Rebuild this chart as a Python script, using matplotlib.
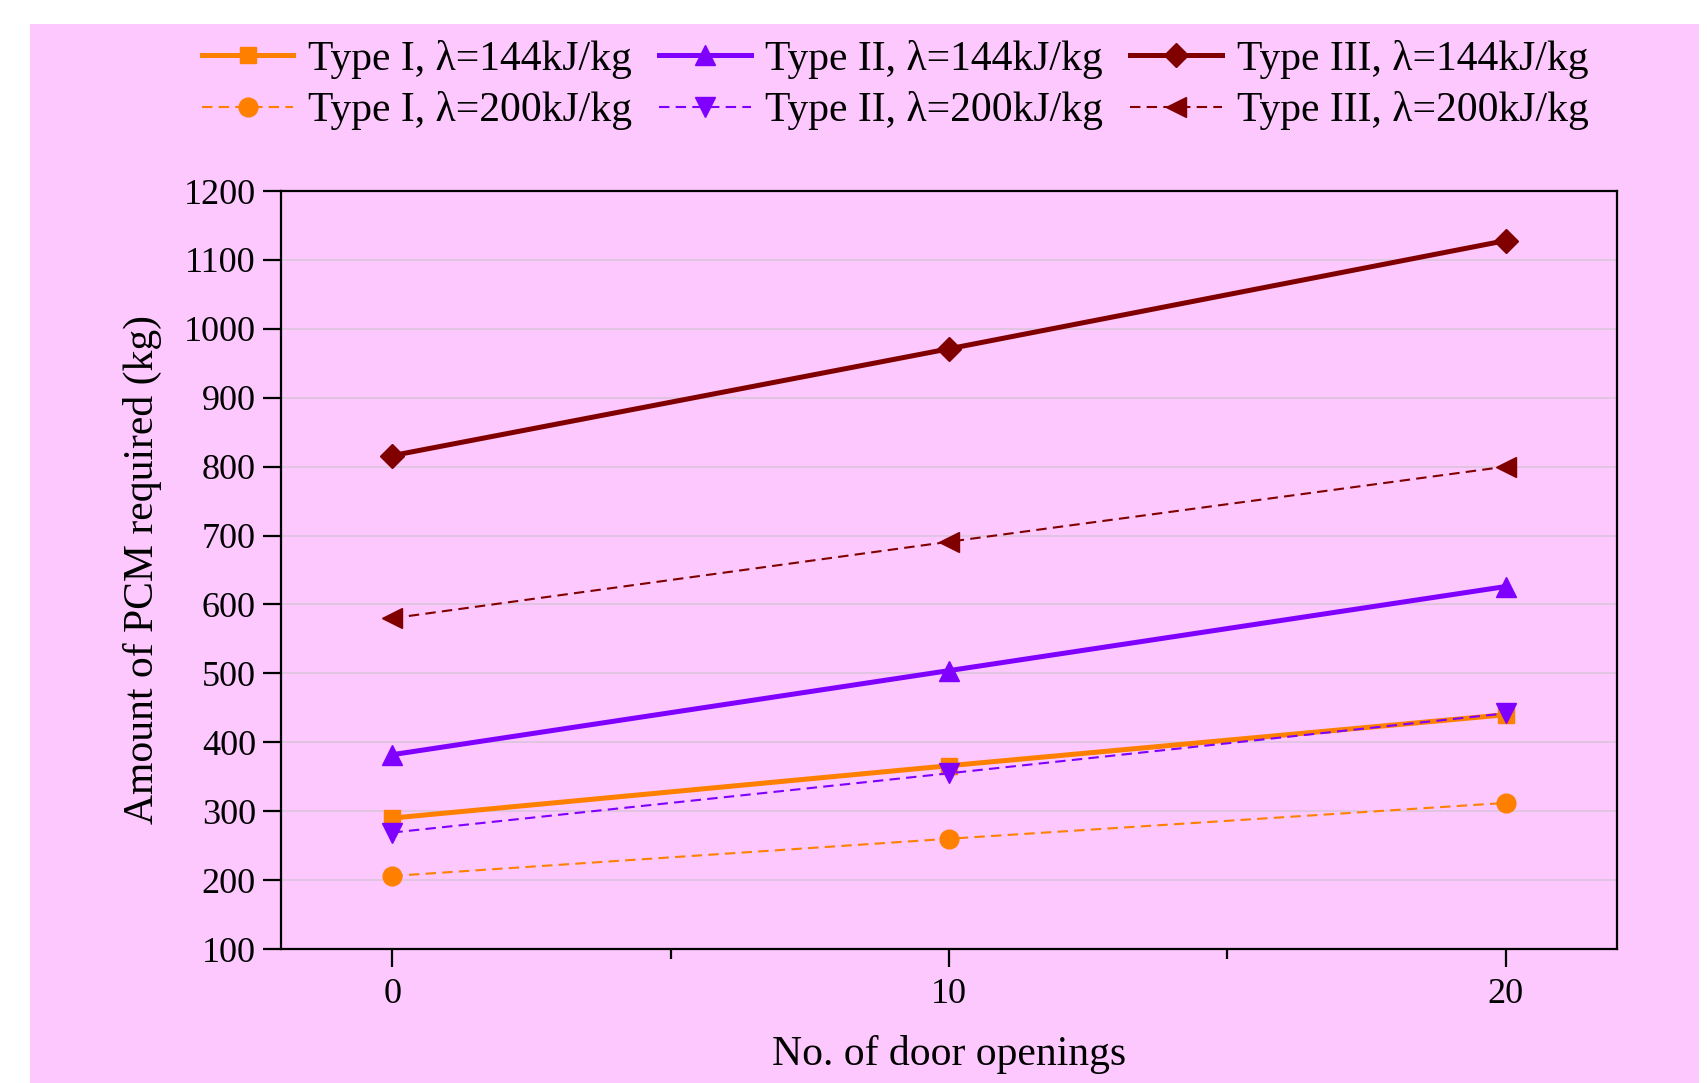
import matplotlib
matplotlib.use("Agg")
import matplotlib.pyplot as plt
from matplotlib.patches import Rectangle
from matplotlib.ticker import MultipleLocator

plt.rcParams['font.family'] = ['Liberation Serif', 'DejaVu Serif']

door_openings = [0, 10, 20]
type1_144 = [290, 366, 440]
type1_200 = [206, 260, 312]
type2_144 = [382, 504, 626]
type2_200 = [269, 355, 442]
type3_144 = [816, 971, 1128]
type3_200 = [580, 691, 800]

labels = ["Type I, λ=144kJ/kg", "Type I, λ=200kJ/kg",
          "Type II, λ=144kJ/kg", "Type II, λ=200kJ/kg",
          "Type III, λ=144kJ/kg", "Type III, λ=200kJ/kg"]

orange = '#FF8000'
purple = '#8000FF'
darkred = '#800000'
pink = '#FDC8FD'

W, H = 1708, 1083
fig = plt.figure(figsize=(W / 100, H / 100), dpi=100)
fig.patch.set_facecolor('white')
bg = Rectangle((30 / W, 0), (1699 - 30) / W, 1 - 24 / H,
               transform=fig.transFigure, facecolor=pink,
               edgecolor='none', zorder=-10)
fig.patches.append(bg)

ax_l, ax_b = 281, 949
ax_w, ax_h = 1617 - 281, 949 - 191
ax = fig.add_axes([ax_l / W, 1 - ax_b / H, ax_w / W, ax_h / H])
ax.set_facecolor(pink)

dash = (0, (5, 3))
h1, = ax.plot(door_openings, type1_144, color=orange, lw=3.6, marker='s', ms=12, label=labels[0], zorder=3)
h2, = ax.plot(door_openings, type1_200, color=orange, lw=1.5, ls=dash, marker='o', ms=13.5, label=labels[1], zorder=3)
h3, = ax.plot(door_openings, type2_144, color=purple, lw=3.6, marker='^', ms=15, label=labels[2], zorder=3)
h4, = ax.plot(door_openings, type2_200, color=purple, lw=1.5, ls=dash, marker='v', ms=15, label=labels[3], zorder=4)
h5, = ax.plot(door_openings, type3_144, color=darkred, lw=3.6, marker='D', ms=12.5, label=labels[4], zorder=3)
h6, = ax.plot(door_openings, type3_200, color=darkred, lw=1.5, ls=dash, marker='<', ms=15, label=labels[5], zorder=3)

ax.set_xlim(-2, 22)
ax.set_ylim(100, 1200)
ax.xaxis.set_major_locator(MultipleLocator(10))
ax.xaxis.set_minor_locator(MultipleLocator(5))
ax.yaxis.set_major_locator(MultipleLocator(100))

ax.grid(axis='y', color='#DCC4DC', lw=1.2, zorder=1)
ax.set_axisbelow(True)

for s in ax.spines.values():
    s.set_linewidth(1.6)
ax.tick_params(axis='both', which='major', direction='out', length=13, width=1.6,
               labelsize=26, top=False, right=False)
ax.tick_params(axis='x', which='minor', direction='out', length=7, width=1.6, top=False)
ax.tick_params(axis='y', which='major', pad=5)
ax.tick_params(axis='x', which='major', pad=8)

ax.set_xlabel("No. of door openings", fontsize=30, va='center')
ax.xaxis.set_label_coords(0.5, (ax_b - 1055) / ax_h)
ax.set_ylabel("Amount of PCM required (kg)", fontsize=30, va='center')
ax.yaxis.set_label_coords((142 - ax_l) / ax_w, 0.5)

fig.legend(handles=[h1, h2, h3, h4, h5, h6], ncol=3, loc='center',
           bbox_to_anchor=(895 / W, 1 - 85 / H), frameon=False, fontsize=30,
           handlelength=2.2, handletextpad=0.35, columnspacing=0.65,
           labelspacing=0.3, borderaxespad=0)

fig.savefig("out.png", dpi=100, facecolor=fig.get_facecolor())
